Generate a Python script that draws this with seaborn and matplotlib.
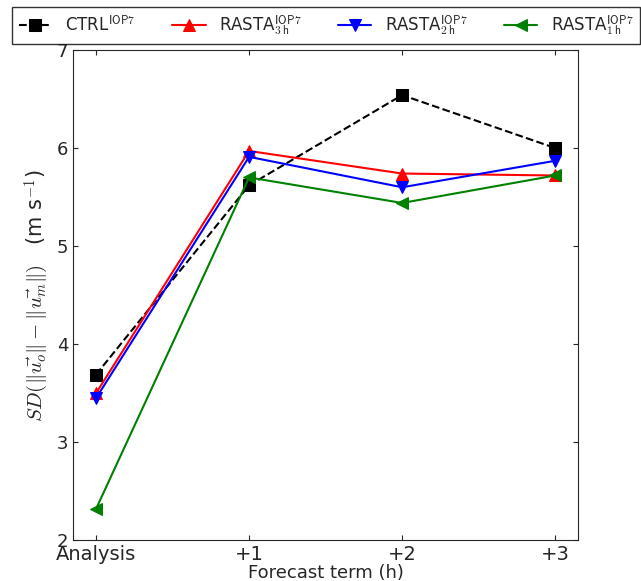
import matplotlib
matplotlib.use('Agg')
import matplotlib.pyplot as plt
import seaborn as sns
import pandas as pd

sns.set_style('ticks')
plt.rcParams['font.family'] = ['DejaVu Sans']
plt.rcParams['mathtext.fontset'] = 'cm'

terms = ['Analysis', '+1', '+2', '+3']
ctrl = [3.69, 5.62, 6.54, 6.00]
rasta_3h = [3.50, 5.97, 5.74, 5.72]
rasta_2h = [3.45, 5.91, 5.60, 5.87]
rasta_1h = [2.32, 5.70, 5.44, 5.72]

series = [
    (r'CTRL$^{\mathsf{IOP7}}$', ctrl, 'black', 's', '--'),
    (r'RASTA$^{\mathsf{IOP7}}_{\mathsf{3\,h}}$', rasta_3h, 'red', '^', '-'),
    (r'RASTA$^{\mathsf{IOP7}}_{\mathsf{2\,h}}$', rasta_2h, 'blue', 'v', '-'),
    (r'RASTA$^{\mathsf{IOP7}}_{\mathsf{1\,h}}$', rasta_1h, 'green', '<', '-'),
]

fig, ax = plt.subplots(figsize=(6.41, 5.81), dpi=100)
fig.subplots_adjust(left=0.114, right=0.902, top=0.914, bottom=0.07)
x = list(range(len(terms)))
for name, vals, col, mk, ls in series:
    df = pd.DataFrame({'x': x, 'y': vals})
    sns.lineplot(data=df, x='x', y='y', ax=ax, color=col, marker=mk, linestyle=ls,
                 markersize=9, markeredgecolor=col, linewidth=1.5, label=name)

ax.set_xlim(-0.15, 3.15)
ax.set_ylim(2, 7)
ax.set_xticks(x)
ax.set_xticklabels(terms, fontsize=14)
ax.tick_params(axis='both', direction='in', top=True, right=True)
ax.tick_params(axis='y', labelsize=13)
ax.set_xlabel('Forecast term (h)', fontsize=13, labelpad=0)
ax.set_ylabel(r'$SD(\|\vec{u_o}\| - \|\vec{u_m}\|)$   (m s$^{-1}$)', fontsize=15)
for s in ax.spines.values():
    s.set_visible(True)
handles, labels = ax.get_legend_handles_labels()
ax.get_legend().remove()
fig.legend(handles, labels, loc='lower left',
           bbox_to_anchor=(12 / 641, 1 - 44 / 581, 628 / 641, 32 / 581),
           mode='expand', ncol=4, fontsize=12, frameon=True, fancybox=False,
           edgecolor='black', borderaxespad=0, handlelength=2.0)
fig.savefig('out.png', dpi=100)
